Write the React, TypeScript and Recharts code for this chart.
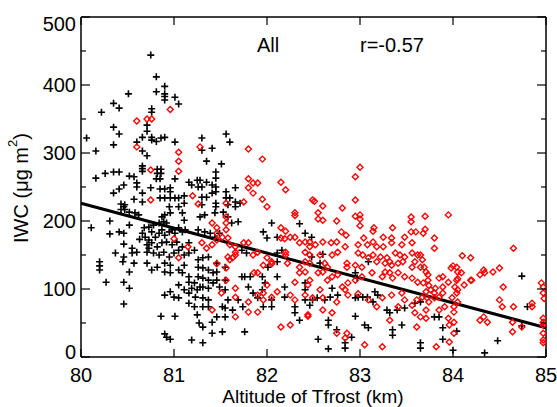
import React from 'react';
import { ScatterChart, Scatter, XAxis, YAxis, ReferenceLine } from 'recharts';

const FONT = '"Liberation Sans", Arial, Helvetica, sans-serif';

const altTicks = [80, 81, 82, 83, 84, 85];
const iwcTicks = [0, 50, 100, 150, 200, 250, 300, 350, 400, 450, 500];

// fitted line end points (altitude km, IWC)
const fitAlt = [80, 85];
const fitIwc = [226, 43];

// black crosses: [altitude km, IWC]
const crossPoints: [number, number][] = [
  [80.75, 444], [80.81, 412], [80.9, 398], [80.81, 390], [80.51, 387], [80.9, 387], [80.9, 383], [80.9, 378],
  [81.01, 382], [81.05, 372], [80.35, 373], [80.41, 366], [80.22, 360], [80.76, 365], [80.76, 360], [80.71, 341],
  [80.71, 332], [80.35, 338], [80.41, 328], [80.06, 322], [80.66, 323], [80.6, 316], [80.76, 323], [80.76, 319],
  [80.86, 322], [80.9, 323], [80.81, 317], [81.01, 316], [80.16, 303], [80.35, 312], [80.66, 303], [80.71, 296],
  [80.66, 281], [80.66, 277], [80.66, 273], [80.82, 276], [80.86, 276], [80.82, 270], [80.86, 270], [80.16, 263],
  [80.26, 270], [80.35, 272], [80.41, 272], [80.52, 266], [80.57, 265], [80.46, 253], [80.41, 247], [80.35, 241],
  [80.6, 256], [80.6, 250], [80.75, 249], [80.81, 262], [80.85, 262], [80.85, 247], [80.9, 247], [80.96, 249],
  [81.01, 262], [81.16, 257], [81.19, 253], [81.25, 260], [81.28, 260], [80.57, 232], [80.66, 241], [80.66, 228],
  [80.85, 234], [80.9, 234], [80.96, 234], [81.01, 234], [81.05, 234], [81.11, 237], [80.43, 225], [80.46, 221],
  [80.96, 243], [81.11, 226], [80.47, 224], [80.43, 217], [80.47, 217], [80.52, 213], [80.58, 212], [80.62, 209],
  [80.31, 200], [80.52, 194], [80.11, 190], [80.31, 181], [80.41, 184], [80.46, 182], [80.46, 166], [80.37, 153],
  [80.2, 140], [80.2, 134], [80.2, 128], [80.55, 160], [80.55, 153], [80.6, 154], [80.57, 138], [80.52, 125],
  [80.46, 110], [80.52, 101], [80.27, 110], [80.46, 78], [80.66, 182], [80.69, 176], [80.73, 172], [80.71, 165],
  [80.73, 160], [80.71, 154], [80.68, 190], [80.73, 191], [80.78, 194], [80.84, 197], [80.89, 199], [80.92, 197],
  [80.87, 206], [80.9, 209], [80.96, 212], [80.95, 221], [81.05, 221], [81.09, 212], [81.11, 201], [80.76, 184],
  [80.8, 176], [80.84, 182], [80.87, 187], [80.9, 179], [80.95, 184], [80.98, 187], [81.01, 182], [81.05, 190],
  [81.09, 184], [81.12, 187], [80.76, 168], [80.82, 162], [80.87, 168], [80.92, 169], [80.98, 165], [81.03, 169],
  [81.09, 162], [81.16, 168], [80.78, 153], [80.84, 150], [80.89, 154], [80.95, 147], [81.0, 153], [81.05, 157],
  [81.11, 150], [81.16, 153], [81.22, 157], [80.71, 138], [80.76, 128], [80.82, 132], [80.9, 138], [80.96, 135],
  [80.9, 125], [80.96, 124], [81.05, 128], [81.11, 135], [81.09, 124], [81.16, 118], [81.16, 110], [81.22, 109],
  [81.19, 101], [81.25, 99], [81.28, 103], [81.16, 94], [81.23, 88], [81.11, 99], [81.05, 106], [80.96, 96],
  [80.9, 91], [81.0, 88], [81.05, 87], [81.16, 79], [81.22, 74], [81.25, 62], [81.27, 50], [81.19, 25],
  [80.86, 60], [81.01, 60], [80.9, 34], [80.92, 29], [80.96, 26], [80.46, 147], [80.45, 140], [80.63, 173],
  [81.56, 328], [81.6, 316], [81.3, 322], [81.3, 304], [81.41, 307], [81.35, 288], [81.51, 284], [81.45, 272],
  [81.45, 263], [81.26, 250], [81.3, 250], [81.35, 257], [81.41, 253], [81.45, 250], [81.45, 243], [81.41, 241],
  [81.3, 235], [81.35, 235], [81.56, 243], [81.66, 249], [81.56, 234], [81.6, 234], [81.66, 228], [81.66, 221],
  [81.71, 226], [81.45, 226], [81.45, 221], [81.3, 224], [81.58, 224], [81.28, 206], [81.33, 209], [81.44, 212],
  [81.53, 213], [81.58, 206], [81.62, 197], [81.69, 199], [82.05, 197], [82.35, 196], [81.26, 187], [81.33, 184],
  [81.39, 182], [81.44, 176], [81.49, 182], [81.73, 157], [81.78, 153], [81.26, 143], [81.31, 146], [81.37, 147],
  [81.26, 132], [81.31, 131], [81.37, 128], [81.26, 118], [81.31, 116], [81.37, 113], [81.42, 124], [81.31, 103],
  [81.37, 101], [81.42, 109], [81.31, 87], [81.37, 84], [81.31, 74], [81.37, 74], [81.31, 44], [81.41, 51],
  [81.41, 35], [81.31, 21], [81.46, 138], [81.46, 125], [81.46, 113], [81.49, 103], [81.55, 132], [81.55, 113],
  [81.55, 99], [81.58, 84], [81.52, 74], [81.46, 59], [81.55, 59], [81.55, 72], [81.63, 69], [81.69, 84],
  [81.74, 74], [81.76, 37], [81.52, 37], [81.73, 118], [81.8, 103], [81.85, 94], [81.9, 87], [81.95, 99],
  [81.96, 74], [82.05, 84], [82.05, 74], [82.19, 103], [82.19, 88], [82.3, 74], [82.3, 65], [82.41, 99],
  [82.41, 84], [82.35, 54], [81.76, 118], [81.82, 118], [81.96, 184], [82.0, 175], [81.95, 118], [81.98, 109],
  [82.11, 153], [82.16, 157], [82.11, 140], [82.01, 132], [82.11, 118], [82.41, 182], [82.48, 176], [82.11, 176],
  [82.6, 151], [83.09, 140], [82.48, 147], [82.57, 138], [82.7, 101], [82.95, 124], [82.97, 116], [82.54, 87],
  [82.62, 84], [82.68, 88], [82.76, 91], [82.95, 87], [82.98, 88], [83.03, 88], [83.08, 88], [83.16, 96],
  [83.19, 91], [83.14, 81], [83.29, 69], [83.32, 65], [83.4, 69], [83.48, 72], [83.59, 79], [83.65, 81],
  [82.41, 109], [82.49, 84], [82.46, 76], [82.66, 54], [82.66, 47], [82.75, 40], [83.05, 47], [83.09, 43],
  [83.35, 40], [83.35, 32], [83.45, 47], [82.84, 21], [82.84, 13], [82.55, 26], [82.66, 12], [83.65, 13],
  [83.65, 21], [82.95, 60], [82.91, 29], [84.74, 119], [84.8, 74], [84.74, 46], [84.48, 24], [84.34, 6],
  [84.0, 10], [83.89, 26], [83.89, 43], [84.04, 38], [83.85, 59], [83.8, 59],
];

// red diamonds: [altitude km, IWC]
const diamondPoints: [number, number][] = [
  [80.96, 364], [80.6, 347], [80.71, 350], [80.76, 350], [80.6, 309], [81.05, 301], [81.05, 288], [81.28, 309],
  [80.75, 275], [81.05, 273], [80.75, 231], [81.2, 237], [81.26, 225], [81.0, 174], [81.15, 162], [81.05, 146],
  [81.3, 168], [81.8, 306], [81.95, 291], [81.8, 262], [81.8, 249], [81.85, 256], [81.9, 256], [81.85, 241],
  [81.95, 232], [81.75, 228], [81.56, 226], [82.0, 221], [82.15, 257], [82.2, 246], [82.49, 231], [81.41, 197],
  [81.46, 190], [81.46, 182], [81.56, 187], [81.56, 197], [81.56, 206], [82.3, 212], [82.3, 208], [81.35, 160],
  [81.41, 165], [81.46, 172], [81.52, 176], [81.58, 175], [81.6, 165], [81.66, 162], [81.66, 154], [81.66, 150],
  [81.63, 146], [81.58, 147], [81.6, 143], [81.75, 168], [81.8, 168], [81.85, 150], [81.9, 154], [82.0, 146],
  [82.05, 140], [82.05, 137], [81.96, 135], [82.15, 190], [82.2, 185], [82.15, 175], [82.19, 174], [82.25, 176],
  [82.3, 176], [82.35, 168], [82.41, 169], [82.46, 169], [82.41, 154], [82.46, 150], [82.41, 140], [82.46, 138],
  [82.2, 154], [82.2, 150], [82.22, 138], [82.35, 132], [82.35, 124], [82.41, 125], [82.46, 113], [81.46, 137],
  [81.56, 131], [81.56, 113], [81.51, 94], [81.66, 101], [81.66, 88], [81.41, 69], [81.66, 59], [81.8, 81],
  [81.8, 66], [81.9, 66], [81.9, 91], [81.96, 84], [81.96, 94], [81.86, 124], [81.9, 124], [82.0, 106],
  [82.05, 88], [82.11, 96], [82.3, 110], [82.25, 91], [82.3, 84], [82.44, 62], [82.15, 44], [82.25, 47],
  [83.0, 279], [82.95, 265], [82.51, 229], [82.6, 222], [82.95, 231], [82.81, 219], [82.55, 212], [82.55, 203],
  [82.6, 201], [82.75, 200], [82.95, 207], [83.0, 209], [83.0, 203], [83.0, 193], [83.15, 190], [83.35, 190],
  [83.55, 206], [83.55, 199], [83.55, 184], [83.6, 184], [83.7, 207], [83.7, 188], [82.8, 184], [82.85, 179],
  [83.04, 175], [83.25, 176], [83.34, 175], [83.48, 176], [83.14, 185], [83.68, 182], [83.56, 168], [83.45, 165],
  [82.6, 169], [82.69, 168], [82.75, 169], [82.84, 162], [82.98, 165], [83.08, 165], [83.14, 169], [83.18, 162],
  [83.25, 162], [83.34, 168], [82.46, 162], [82.52, 165], [82.76, 154], [82.7, 150], [82.98, 153], [83.03, 150],
  [83.09, 146], [83.14, 150], [83.22, 147], [83.29, 146], [83.32, 140], [83.38, 153], [83.43, 150], [83.48, 147],
  [83.56, 153], [83.62, 150], [83.67, 143], [83.59, 140], [83.46, 140], [82.57, 150], [82.62, 138], [82.65, 132],
  [82.86, 138], [82.86, 132], [82.95, 135], [83.02, 132], [83.18, 140], [83.27, 138], [83.34, 135], [83.41, 138],
  [83.56, 132], [83.65, 132], [82.55, 124], [82.6, 125], [82.65, 113], [82.57, 99], [82.7, 118], [82.76, 121],
  [82.81, 103], [82.84, 99], [82.87, 109], [82.95, 113], [83.02, 118], [83.13, 124], [83.24, 118], [83.27, 125],
  [83.32, 124], [83.35, 116], [83.41, 124], [83.48, 118], [83.56, 116], [83.62, 110], [83.68, 109], [83.73, 113],
  [82.44, 106], [82.41, 91], [82.49, 87], [82.6, 87], [82.75, 81], [82.87, 91], [82.98, 93], [83.09, 84],
  [83.24, 87], [83.34, 91], [83.45, 94], [83.48, 84], [83.56, 76], [83.61, 84], [83.67, 88], [83.72, 87],
  [83.18, 74], [83.41, 74], [82.6, 69], [82.7, 65], [83.32, 54], [83.59, 65], [83.65, 59], [83.61, 44],
  [82.75, 35], [82.86, 35], [82.84, 28], [83.05, 18], [83.24, 15], [82.44, 60], [83.95, 209], [83.8, 175],
  [83.8, 160], [84.65, 160], [84.1, 149], [84.19, 146], [83.65, 150], [83.69, 132], [83.71, 125], [83.73, 121],
  [83.74, 105], [83.76, 99], [83.71, 96], [83.81, 101], [83.8, 94], [83.85, 116], [83.89, 118], [83.89, 103],
  [83.89, 94], [83.85, 88], [84.04, 132], [84.05, 125], [84.09, 124], [84.04, 113], [84.02, 103], [84.05, 99],
  [84.04, 94], [83.99, 87], [84.05, 81], [83.71, 69], [83.71, 57], [83.74, 81], [83.8, 87], [83.85, 69],
  [83.91, 74], [83.95, 57], [83.96, 47], [84.01, 74], [84.01, 66], [84.01, 51], [84.01, 35], [83.96, 22],
  [83.82, 15], [84.12, 106], [84.2, 113], [84.29, 121], [84.34, 124], [84.43, 125], [84.5, 131], [84.29, 54],
  [84.37, 51], [84.5, 84], [84.53, 74], [84.64, 37], [84.64, 51], [84.74, 44], [84.85, 79], [84.85, 74],
  [84.95, 109], [84.97, 103], [84.97, 94], [84.97, 57], [84.97, 51], [84.97, 47], [84.97, 35], [84.97, 25],
  [84.97, 21], [84.98, 86], [84.33, 128], [84.19, 113], [84.05, 115], [83.98, 131], [84.0, 134], [83.95, 110],
  [84.54, 103], [84.65, 74], [84.33, 59],
];

const toRows = (pts: [number, number][]) => pts.map(([alt, iwc]) => ({ alt, iwc }));

const Cross = ({ cx, cy }: any) => (
  <path d={`M${cx - 3.5},${cy}h7M${cx},${cy - 3.5}v7`} stroke="#000" strokeWidth={1.6} fill="none" />
);

const Diamond = ({ cx, cy }: any) => (
  <path
    d={`M${cx},${cy - 3}L${cx + 3},${cy}L${cx},${cy + 3}L${cx - 3},${cy}Z`}
    stroke="#f00"
    strokeWidth={1.4}
    fill="none"
  />
);

// IDL-style inward ticks; labels only on the left and bottom
const YTick = ({ x, y, payload, side }: any) => {
  const major = payload.value % 100 === 0;
  const len = major ? 9 : 5;
  const dir = side === 'left' ? 1 : -1;
  let dy = 7;
  if (payload.value === 500) dy = 14;
  if (payload.value === 0) dy = 2;
  return (
    <g>
      <line x1={x} x2={x + dir * len} y1={y} y2={y} stroke="#000" strokeWidth={1.2} />
      {side === 'left' && major && (
        <text x={x - 5} y={y + dy} textAnchor="end" fontSize={20} fontFamily={FONT} fill="#000">
          {payload.value}
        </text>
      )}
    </g>
  );
};

const XTick = ({ x, y, payload, side }: any) => {
  const dir = side === 'bottom' ? -1 : 1;
  return (
    <g>
      <line x1={x} x2={x} y1={y} y2={y + dir * 8} stroke="#000" strokeWidth={1.2} />
      {side === 'bottom' && (
        <text x={x} y={y + 24.5} textAnchor="middle" fontSize={20} fontFamily={FONT} fill="#000">
          {payload.value}
        </text>
      )}
    </g>
  );
};

const textStyle: React.CSSProperties = {
  position: 'absolute',
  fontFamily: FONT,
  fontSize: 20,
  lineHeight: '20px',
  color: '#000',
  whiteSpace: 'nowrap',
};

export default function App() {
  const crosses = toRows(crossPoints);
  const diamonds = toRows(diamondPoints);
  const axisLine = { stroke: '#000', strokeWidth: 1.5 };

  return (
    <div style={{ position: 'absolute', left: 0, top: 0, width: 557, height: 407, background: '#fff', overflow: 'hidden' }}>
      <ScatterChart width={557} height={407} margin={{ top: 16, right: 10, bottom: 49, left: 80 }}>
        <XAxis
          xAxisId="b"
          type="number"
          dataKey="alt"
          domain={[fitAlt[0], fitAlt[1]]}
          allowDataOverflow
          ticks={altTicks}
          interval={0}
          height={1}
          tickSize={0}
          tickMargin={0}
          tickLine={false}
          axisLine={axisLine}
          tick={(p: any) => <XTick {...p} side="bottom" />}
        />
        <XAxis
          xAxisId="t"
          orientation="top"
          type="number"
          dataKey="alt"
          domain={[fitAlt[0], fitAlt[1]]}
          allowDataOverflow
          ticks={altTicks}
          interval={0}
          height={1}
          tickSize={0}
          tickMargin={0}
          tickLine={false}
          axisLine={axisLine}
          tick={(p: any) => <XTick {...p} side="top" />}
        />
        <YAxis
          yAxisId="l"
          type="number"
          dataKey="iwc"
          domain={[0, 500]}
          allowDataOverflow
          ticks={iwcTicks}
          interval={0}
          width={1}
          tickSize={0}
          tickMargin={0}
          tickLine={false}
          axisLine={axisLine}
          tick={(p: any) => <YTick {...p} side="left" />}
        />
        <YAxis
          yAxisId="r"
          orientation="right"
          type="number"
          dataKey="iwc"
          domain={[0, 500]}
          allowDataOverflow
          ticks={iwcTicks}
          interval={0}
          width={1}
          tickSize={0}
          tickMargin={0}
          tickLine={false}
          axisLine={axisLine}
          tick={(p: any) => <YTick {...p} side="right" />}
        />
        <Scatter xAxisId="b" yAxisId="l" data={crosses} shape={<Cross />} isAnimationActive={false} />
        <Scatter xAxisId="b" yAxisId="l" data={diamonds} shape={<Diamond />} isAnimationActive={false} />
        <ReferenceLine
          xAxisId="b"
          yAxisId="l"
          segment={[
            { x: fitAlt[0], y: fitIwc[0] },
            { x: fitAlt[1], y: fitIwc[1] },
          ]}
          stroke="#000"
          strokeWidth={3}
          ifOverflow="visible"
        />
      </ScatterChart>
      <div style={{ ...textStyle, left: 257, top: 35 }}>All</div>
      <div style={{ ...textStyle, left: 360, top: 35 }}>r=-0.57</div>
      <div style={{ ...textStyle, left: 313, top: 386, fontSize: 19, lineHeight: 'normal', transform: 'translateX(-50%)' }}>
        Altitude of Tfrost (km)
      </div>
      <div style={{ ...textStyle, left: 21, top: 188, transform: 'translate(-50%, -50%) rotate(-90deg)' }}>
        IWC (μg m<sup style={{ fontSize: 13, verticalAlign: 'top', lineHeight: '10px', position: 'relative', top: -3 }}>2</sup>)
      </div>
    </div>
  );
}
